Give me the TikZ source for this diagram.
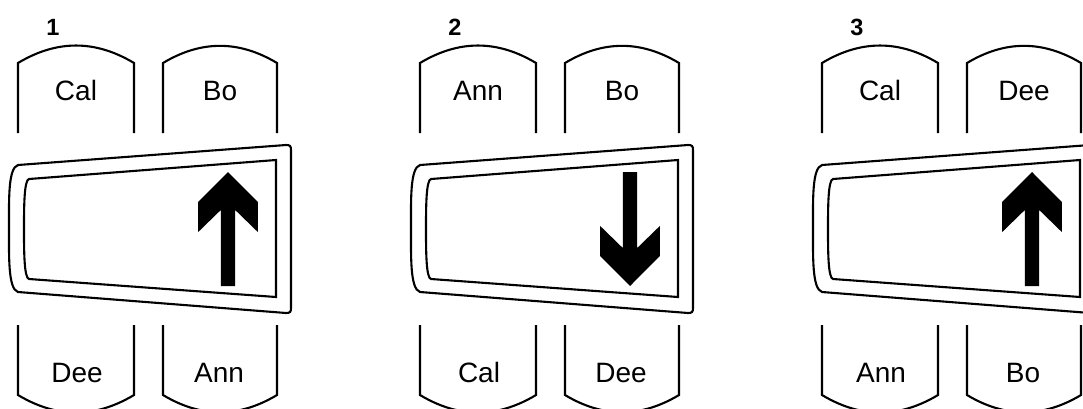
\documentclass[tikz,border=0pt]{standalone}
\usepackage{fontspec}
\setmainfont{Liberation Sans}
\begin{document}
\begin{tikzpicture}[x=1pt, y=-1pt, line width=2.1pt,
    person/.style={font=\fontsize{28}{30}\selectfont, anchor=base, inner sep=0},
    num/.style={font=\fontsize{23.5}{25}\selectfont\bfseries, anchor=base, inner sep=0}]
\useasboundingbox (0,0) rectangle (1083,408);
\clip (0,0) rectangle (1083,408);
\foreach \p/\x/\tl/\tr/\bl/\br/\s in {1/0/Cal/Bo/Dee/Ann/1, 2/402/Ann/Bo/Cal/Dee/-1, 3/804/Cal/Dee/Ann/Bo/1}{
\begin{scope}[xshift=\x]
\node[num] (num\p) at (53,35) {\p};
% seats
\foreach \a/\b in {18/134, 163/277}{
    \draw (\a,133) -- (\a,63) to[bend left=31] (\b,63) -- (\b,133);
    \draw (\a,325) -- (\a,395) to[bend right=31] (\b,395) -- (\b,325);
}
\node[person] (tl\p) at (76,100) {\tl};
\node[person] (tr\p) at (220,100) {\tr};
\node[person] (bl\p) at (77,382) {\bl};
\node[person] (br\p) at (219,382) {\br};
% display
\draw (18,165) -- (286,145) .. controls (290,145) and (291,146) .. (291,150) -- (291,308) .. controls (291,312) and (290,313) .. (286,313) -- (18,292) .. controls (8,289) and (9,256) .. (9,228) .. controls (9,200) and (8,168) .. (18,165) -- cycle;
\draw (29,179) -- (276,160) -- (276,297) -- (29,279) .. controls (24,278) and (24,250) .. (24,229) .. controls (24,208) and (24,180) .. (29,179) -- cycle;
\fill[shift={(228,229)}, yscale=\s] (0,-57) -- (29.8,-27) -- (29.8,3) -- (7.2,-19) -- (7.2,57) -- (-7.2,57) -- (-7.2,-19) -- (-29.8,3) -- (-29.8,-27) -- cycle;
\end{scope}
}
\end{tikzpicture}
\end{document}
